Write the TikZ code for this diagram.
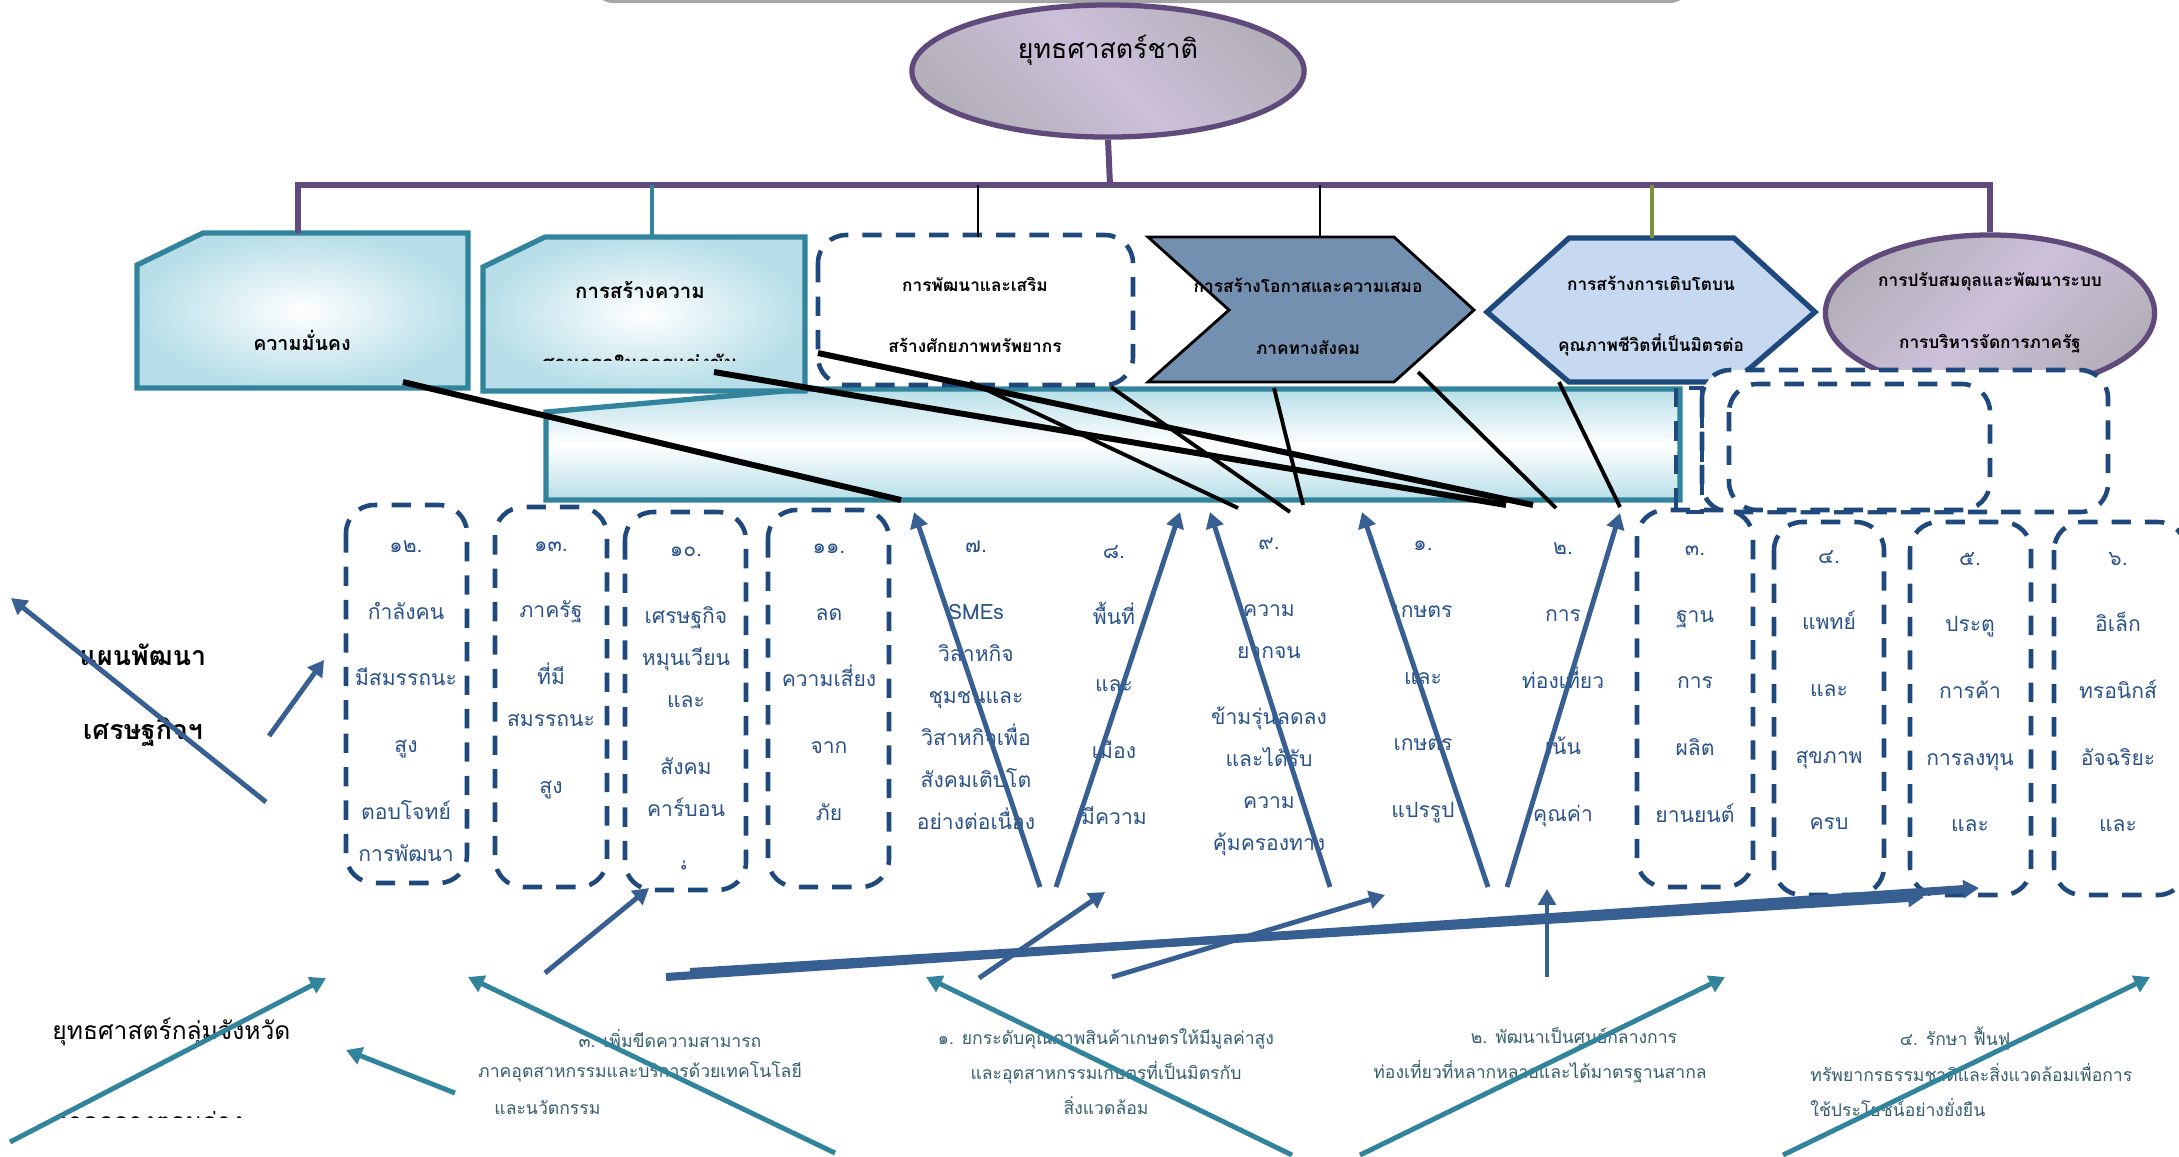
\documentclass[tikz,border=0pt]{standalone}
\usepackage{fontspec}
\setmainfont{Loma}[Script=Thai]
\usetikzlibrary{arrows.meta, shapes.geometric}
\definecolor{purpleline}{RGB}{96,74,123}
\definecolor{tealline}{RGB}{49,132,155}
\definecolor{dashblue}{RGB}{31,73,125}
\definecolor{arrowblue}{RGB}{56,95,145}
\definecolor{coltextblue}{RGB}{42,82,138}
\definecolor{slate}{RGB}{116,144,176}
\definecolor{hexfill}{RGB}{198,217,241}
\definecolor{lavender}{RGB}{204,192,218}
\definecolor{lavgray}{RGB}{180,176,186}
\definecolor{bandblue}{RGB}{183,222,232}
\definecolor{greenline}{RGB}{119,147,60}
\definecolor{bottomteal}{RGB}{52,94,110}
\tikzset{
    purplebar/.style={draw=purpleline, line width=1.7pt},
    tealbox/.style={draw=tealline, line width=1.5pt, inner color=white, outer color=bandblue},
    dashbox/.style={draw=dashblue, line width=1.3pt, dash pattern=on 5.5pt off 4pt, rounded corners=8pt},
    headtext/.style={font=\bfseries\fontsize{4.9}{17.6}\selectfont, align=center, text=black},
    coltext/.style={font=\fontsize{6}{11.95}\selectfont, align=center, text=coltextblue},
    plantext/.style={font=\fontsize{5}{9.96}\selectfont, text=bottomteal},
    blackline/.style={color=black, line width=1.7pt},
    blackthin/.style={color=black, line width=1.1pt},
    bluearrow/.style={color=arrowblue, line width=1.4pt, -{Triangle[length=4.5pt,width=5pt]}},
    tealarrow/.style={color=tealline, line width=1.4pt, -{Triangle[length=4.5pt,width=5pt]}}
}

\begin{document}
\begin{tikzpicture}[x=0.01cm, y=-0.01cm]
	\useasboundingbox (0,0) rectangle (2179,1156);
	\draw[gray!70, line width=1.2pt, rounded corners=6pt] (593,-50) rectangle (1690,1);
	\node[ellipse, draw=purpleline, line width=1.5pt, minimum width=3.92cm, minimum height=1.32cm,
		left color=lavgray, right color=lavgray, middle color=lavender, shading angle=135] (nat) at (1108,71) {};
	\node[font=\fontsize{7.6}{10}\selectfont] (natlabel) at (1108,50) {ยุทธศาสตร์ชาติ};

	\draw[draw=tealline, line width=1.5pt, top color=bandblue, bottom color=bandblue, middle color=white]
		(546,412) -- (807,389) -- (1680,389) -- (1680,500) -- (546,500) -- cycle;

	\draw[tealbox] (137,265) -- (203,233) -- (468,233) -- (468,388) -- (137,388) -- cycle;
	\node[headtext, font=\bfseries\fontsize{5.6}{8}\selectfont] (security) at (302,340) {ความมั่นคง};
	\draw[tealbox] (483,267) -- (545,237) -- (805,237) -- (805,391) -- (483,391) -- cycle;
	\node[headtext, font=\bfseries\fontsize{5.8}{8}\selectfont] (compete) at (640,290) {การสร้างความ};
	\begin{scope}
		\clip (483,237) rectangle (805,360);
		\node[headtext, font=\bfseries\fontsize{5.8}{8}\selectfont] (compete2) at (640,362) {สามารถในการแข่งขัน};
	\end{scope}
	\draw[dashbox, fill=white] (818,235) rectangle (1133,385);
	\node[headtext] (human) at (975,315) {การพัฒนาและเสริม\\สร้างศักยภาพทรัพยากร};
	\draw[fill=slate, draw=black, line width=0.8pt] (1148,237) -- (1394,237) -- (1474,310) -- (1394,382) -- (1148,382) -- (1229,310) -- cycle;
	\node[headtext] (equity) at (1308,316) {การสร้างโอกาสและความเสมอ\\ภาคทางสังคม};
	\draw[fill=hexfill, draw=dashblue, line width=1.5pt] (1569,238) -- (1734,238) -- (1815,312) -- (1734,382) -- (1569,382) -- (1487,312) -- cycle;
	\node[headtext] (growth) at (1651,316) {การสร้างการเติบโตบน\\คุณภาพชีวิตที่เป็นมิตรต่อ};
	\node[ellipse, draw=purpleline, line width=1.5pt, minimum width=3.29cm, minimum height=1.56cm,
		left color=lavgray, right color=lavgray, middle color=lavender, shading angle=45] (reform) at (1990,313) {};
	\node[headtext] (reformtext) at (1990,313) {การปรับสมดุลและพัฒนาระบบ\\การบริหารจัดการภาครัฐ};
	\draw[dashbox, fill=white] (1702,370) rectangle (2108,512);
	\draw[dashbox, fill=white] (1729,384) rectangle (1990,510);
	\draw[dashbox, sharp corners] (1676,388) rectangle (1702,512);

	\coordinate (hub) at (1110,185);
	\coordinate (t1) at (298,233);
	\coordinate (t2) at (652,237);
	\coordinate (t3) at (978,237);
	\coordinate (t4) at (1320,237);
	\coordinate (t5) at (1652,238);
	\draw[purplebar] (nat.south) -- (hub);
	\draw[purplebar] (t1) -- (t1 |- hub) -- (reform.north |- hub) -- (reform.north);
	\draw[draw=tealline, line width=1.4pt] (t2 |- hub) -- (t2);
	\draw[thin] (t3 |- hub) -- (t3) (t4 |- hub) -- (t4);
	\draw[draw=greenline, line width=1.2pt] (t5 |- hub) -- (t5);

	\coordinate (k1) at (403,382);   \coordinate (k1e) at (901,500);
	\coordinate (k2) at (714,372);   \coordinate (k2e) at (1506,505);
	\coordinate (k3) at (818,353);   \coordinate (k3e) at (1533,505);
	\coordinate (k4) at (970,382);   \coordinate (k4e) at (1238,508);
	\coordinate (k5) at (1111,387);  \coordinate (k5e) at (1290,512);
	\coordinate (k6) at (1274,388);  \coordinate (k6e) at (1303,505);
	\coordinate (k7) at (1418,372);  \coordinate (k7e) at (1556,508);
	\coordinate (k8) at (1559,382);  \coordinate (k8e) at (1620,507);
	\path[blackline] (k1) edge (k1e) (k2) edge (k2e) (k3) edge (k3e);
	\path[blackthin] (k4) edge (k4e) (k5) edge (k5e) (k6) edge (k6e) (k7) edge (k7e) (k8) edge (k8e);

	\draw[dashbox] (346,505) rectangle (467,883);
	\draw[dashbox] (495,507) rectangle (607,887);
	\draw[dashbox] (625,512) rectangle (746,890);
	\draw[dashbox] (768,510) rectangle (889,887);
	\draw[dashbox] (1637,510) rectangle (1753,887);
	\draw[dashbox] (1774,522) rectangle (1884,895);
	\draw[dashbox] (1910,522) rectangle (2031,895);
	\draw[dashbox] (2054,522) rectangle (2186,895);

	\node[coltext] (c12) at (406,701) {๑๒.\\[7pt]กำลังคน\\[7pt]มีสมรรถนะ\\[7pt]สูง\\[7pt]ตอบโจทย์\\การพัฒนา};
	\node[coltext] (c13) at (551,670) {๑๓.\\[7pt]ภาครัฐ\\[7pt]ที่มี\\สมรรถนะ\\[7pt]สูง};
	\begin{scope}
		\clip (625,505) rectangle (746,869);
		\node[coltext] (c10) at (686,715) {๑๐.\\[7pt]เศรษฐกิจ\\หมุนเวียน\\และ\\[7pt]สังคม\\คาร์บอน\\[7pt]ต่ำ};
	\end{scope}
	\node[coltext] (c11) at (829,682) {๑๑.\\[7pt]ลด\\[7pt]ความเสี่ยง\\[7pt]จาก\\[7pt]ภัย};
	\node[coltext] (c7) at (976,685) {๗.\\[7pt]SMEs\\วิสาหกิจ\\ชุมชนและ\\วิสาหกิจเพื่อ\\สังคมเติบโต\\อย่างต่อเนื่อง};
	\node[coltext] (c8) at (1114,685) {๘.\\[7pt]พื้นที่\\[7pt]และ\\[7pt]เมือง\\[7pt]มีความ};
	\node[coltext] (c9) at (1269,697) {๙.\\[7pt]ความ\\ยากจน\\[7pt]ข้ามรุ่นลดลง\\และได้รับ\\ความ\\คุ้มครองทาง};
	\node[coltext] (c1) at (1423,682) {๑.\\[7pt]เกษตร\\[7pt]และ\\[7pt]เกษตร\\[7pt]แปรรูป};
	\node[coltext] (c2) at (1563,685) {๒.\\[7pt]การ\\[7pt]ท่องเที่ยว\\[7pt]เน้น\\[7pt]คุณค่า};
	\node[coltext] (c3) at (1695,684) {๓.\\[7pt]ฐาน\\[7pt]การ\\[7pt]ผลิต\\[7pt]ยานยนต์};
	\node[coltext] (c4) at (1829,690) {๔.\\[7pt]แพทย์\\[7pt]และ\\[7pt]สุขภาพ\\[7pt]ครบ};
	\node[coltext] (c5) at (1970,692) {๕.\\[7pt]ประตู\\[7pt]การค้า\\[7pt]การลงทุน\\[7pt]และ};
	\node[coltext] (c6) at (2118,692) {๖.\\[7pt]อิเล็ก\\[7pt]ทรอนิกส์\\[7pt]อัจฉริยะ\\[7pt]และ};

	\node[font=\bfseries\fontsize{7.6}{21}\selectfont, align=center] (plan) at (143,695) {แผนพัฒนา\\เศรษฐกิจฯ};
	\node[font=\fontsize{7}{9}\selectfont, anchor=west] (cluster) at (40,1032) {ยุทธศาสตร์กลุ่มจังหวัด};
	\begin{scope}
		\clip (0,1000) rectangle (700,1117);
		\node[font=\fontsize{7}{9}\selectfont, anchor=west] (cluster2) at (40,1121) {ภาคกลางตอนล่าง ๑};
	\end{scope}
	\node[plantext] (p3a) at (670,1038) {๓. เพิ่มขีดความสามารถ};
	\node[plantext] (p3b) at (640,1072) {ภาคอุตสาหกรรมและบริการด้วยเทคโนโลยี};
	\node[plantext, anchor=west] (p3c) at (482,1107) {และนวัตกรรม};
	\node[plantext, align=center] (p1) at (1106,1072) {๑. ยกระดับคุณภาพสินค้าเกษตรให้มีมูลค่าสูง\\และอุตสาหกรรมเกษตรที่เป็นมิตรกับ\\สิ่งแวดล้อม};
	\node[plantext] (p2a) at (1574,1038) {๒. พัฒนาเป็นศูนย์กลางการ};
	\node[plantext] (p2b) at (1540,1072) {ท่องเที่ยวที่หลากหลายและได้มาตรฐานสากล};
	\node[plantext] (p4a) at (1955,1038) {๔. รักษา ฟื้นฟู};
	\node[plantext, align=left, anchor=west] (p4b) at (1798,1090) {ทรัพยากรธรรมชาติและสิ่งแวดล้อมเพื่อการ\\ใช้ประโยชน์อย่างยั่งยืน};

	\coordinate (a1) at (1040,887);  \coordinate (a1e) at (914,512);
	\coordinate (a2) at (1056,887);  \coordinate (a2e) at (1180,512);
	\coordinate (a3) at (1330,887);  \coordinate (a3e) at (1210,512);
	\coordinate (a4) at (1488,887);  \coordinate (a4e) at (1362,512);
	\coordinate (a5) at (1507,887);  \coordinate (a5e) at (1620,513);
	\coordinate (a6) at (266,802);   \coordinate (a6e) at (11,598);
	\coordinate (a7) at (269,736);   \coordinate (a7e) at (324,660);
	\coordinate (a8) at (545,973);   \coordinate (a8e) at (649,888);
	\coordinate (a9) at (979,978);   \coordinate (a9e) at (1105,892);
	\coordinate (a10) at (1112,977); \coordinate (a10e) at (1385,895);
	\coordinate (a11) at (1547,977); \coordinate (a11e) at (1547,889);
	\coordinate (a12) at (666,977);  \coordinate (a12e) at (1979,888);
	\coordinate (a13) at (690,972);  \coordinate (a13e) at (1924,897);
	\path[bluearrow] (a1) edge (a1e) (a2) edge (a2e) (a3) edge (a3e) (a4) edge (a4e) (a5) edge (a5e)
		(a6) edge (a6e) (a7) edge (a7e) (a8) edge (a8e) (a9) edge (a9e) (a10) edge (a10e) (a11) edge (a11e);
	\path[bluearrow, line width=2.3pt] (a12) edge (a12e) (a13) edge (a13e);

	\coordinate (s1) at (10,1142);   \coordinate (s1e) at (326,978);
	\coordinate (s2) at (455,1093);  \coordinate (s2e) at (346,1050);
	\coordinate (s3) at (835,1153);  \coordinate (s3e) at (468,977);
	\coordinate (s4) at (1292,1155); \coordinate (s4e) at (926,977);
	\coordinate (s5) at (1360,1155); \coordinate (s5e) at (1725,977);
	\coordinate (s6) at (1783,1155); \coordinate (s6e) at (2150,977);
	\path[tealarrow] (s1) edge (s1e) (s2) edge (s2e) (s3) edge (s3e) (s4) edge (s4e) (s5) edge (s5e) (s6) edge (s6e);
\end{tikzpicture}
\end{document}
